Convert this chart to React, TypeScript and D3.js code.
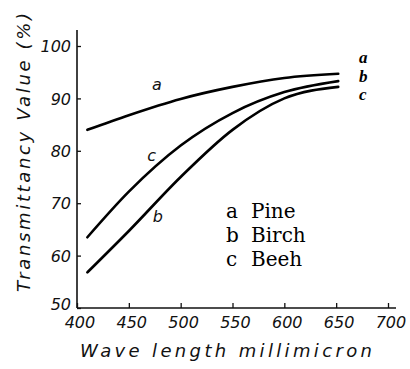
import React, { useEffect, useRef } from 'react';
import * as d3 from 'd3';

// values
const wavelengths = [410, 450, 500, 550, 600, 652];
const pineValues = [84, 86.8, 89.9, 92.2, 93.9, 94.7];
const beehValues = [63.5, 72.2, 81, 87.2, 91.2, 93.3];
const birchValues = [56.8, 64.7, 75, 84, 90, 92.2];
const xTicks = [400, 450, 500, 550, 600, 650, 700];
const yTicks = [50, 60, 70, 80, 90, 100];
const legendKeys = ['a', 'b', 'c'];
const legendNames = ['Pine', 'Birch', 'Beeh'];

const W = 410;
const H = 369;
const handFont = '"DejaVu Sans", sans-serif';

const App: React.FC = () => {
  const xAxisRef = useRef<SVGGElement | null>(null);
  const yAxisRef = useRef<SVGGElement | null>(null);

  const x = d3.scaleLinear().domain([400, 700]).range([77, 388]);
  const y = d3.scaleLinear().domain([50, 100]).range([308, 46]);

  const line = d3.line<[number, number]>()
    .x(d => x(d[0]))
    .y(d => y(d[1]))
    .curve(d3.curveMonotoneX);

  const series = [pineValues, beehValues, birchValues].map(vals =>
    wavelengths.map((w, i) => [w, vals[i]] as [number, number])
  );

  useEffect(() => {
    if (!xAxisRef.current || !yAxisRef.current) return;

    const gx = d3.select(xAxisRef.current);
    gx.selectAll('*').remove();
    gx.call(d3.axisBottom(x).tickValues(xTicks).tickSize(-5).tickPadding(9).tickFormat(d3.format('d')));
    gx.select('.domain').attr('d', 'M77,0H396').attr('stroke', '#111').attr('stroke-width', 1.5);
    gx.selectAll('.tick line').attr('stroke', '#111').attr('stroke-width', 1.3);
    gx.selectAll('.tick text')
      .attr('fill', '#111')
      .attr('dx', '0.15em')
      .style('font-family', handFont)
      .style('font-style', 'italic')
      .style('font-size', '16px');

    const gy = d3.select(yAxisRef.current);
    gy.selectAll('*').remove();
    gy.call(d3.axisLeft(y).tickValues(yTicks).tickSize(-4).tickPadding(6));
    gy.select('.domain').attr('d', 'M0,30V308').attr('stroke', '#111').attr('stroke-width', 1.6);
    gy.selectAll('.tick line').attr('stroke', '#111').attr('stroke-width', 1.3);
    gy.selectAll('.tick text')
      .attr('fill', '#111')
      .attr('dy', (d: any) => (d === 50 ? '0.1em' : '0.35em'))
      .style('font-family', handFont)
      .style('font-style', 'italic')
      .style('font-size', '16px');
  }, []);

  return (
    <div style={{ position: 'fixed', left: 0, top: 0, width: W, height: H, background: '#fff' }}>
      <svg width={W} height={H}>
        <rect width={W} height={H} fill="#fff" />
        <g ref={yAxisRef} transform="translate(77,0)" />
        <g ref={xAxisRef} transform="translate(0,308)" />

        {series.map((s, i) => (
          <path key={i} d={line(s) ?? ''} fill="none" stroke="#000" strokeWidth={2.6} strokeLinecap="round" />
        ))}

        {/* hand lettered curve labels */}
        <g fontFamily={handFont} fontStyle="italic" fontSize={16} fill="#111">
          <text x={x(477)} y={y(91.6)} textAnchor="middle">a</text>
          <text x={x(472)} y={y(78)} textAnchor="middle">c</text>
          <text x={x(478)} y={y(66.4)} textAnchor="middle">b</text>
        </g>

        {/* end labels */}
        <g fontFamily='"Liberation Serif", serif' fontStyle="italic" fontWeight="bold" fontSize={17} fill="#000">
          {legendKeys.map((k, i) => (
            <text key={k} x={x(672)} y={y([96.8, 93.2, 89.7][i])}>{k}</text>
          ))}
        </g>

        {/* legend */}
        <g fontFamily='"DejaVu Serif", serif' fontSize={20} fill="#000">
          {legendKeys.map((k, i) => (
            <text key={k} x={226} y={218 + i * 24}>
              <tspan>{k}</tspan>
              <tspan x={251}>{legendNames[i]}</tspan>
            </text>
          ))}
        </g>

        {/* axis titles */}
        <text x={80} y={357} fontFamily={handFont} fontStyle="italic" fontSize={18} fill="#111"
          textLength={292} lengthAdjust="spacing">Wave length millimicron</text>
        <text transform="translate(30,292) rotate(-90)" x={0} y={0} fontFamily={handFont} fontStyle="italic"
          fontSize={18} fill="#111" textLength={279} lengthAdjust="spacing">Transmittancy Value (%)</text>
      </svg>
    </div>
  );
};

export default App;
